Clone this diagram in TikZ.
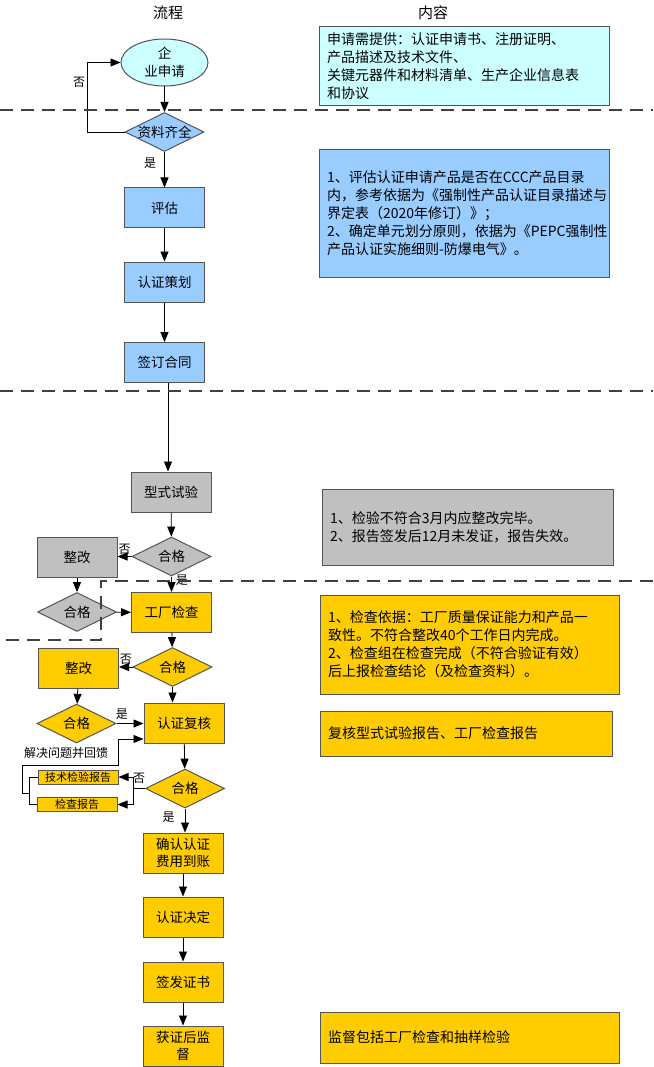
\documentclass[tikz,border=0pt]{standalone}
\usepackage{fontspec}
\setmainfont{Noto Sans CJK SC}
\usetikzlibrary{shapes.geometric,arrows.meta}
\definecolor{cyanfill}{HTML}{CCFFFF}
\definecolor{bluefill}{HTML}{99CCFF}
\definecolor{grayfill}{HTML}{C0C0C0}
\definecolor{yellowfill}{HTML}{FFCC00}
\definecolor{edge}{HTML}{555555}
\begin{document}
\begin{tikzpicture}[x=1pt, y=-1pt,
  main/.style = {draw=edge, line width=1pt, minimum width=80pt, minimum height=40pt, inner sep=0pt, align=center, font=\fontsize{13.5}{17.5}\selectfont},
  dec/.style = {main, diamond, aspect=2, inner sep=-2pt, minimum width=79pt, minimum height=39pt},
  report/.style = {draw=edge, line width=1pt, minimum width=80pt, minimum height=14pt, inner sep=0pt, font=\fontsize{11}{13}\selectfont},
  note/.style = {draw=edge, line width=1pt, align=left, inner xsep=8pt, inner ysep=0pt, font=\fontsize{14}{18}\selectfont},
  lab/.style = {inner sep=2pt, font=\fontsize{12}{14}\selectfont},
  head/.style = {font=\fontsize{15}{18}\selectfont},
  arr/.style = {-{Triangle[length=10pt, width=8pt]}, line width=0.8pt},
  cutline/.style = {draw=black!75, line width=1.2pt, dash pattern=on 13pt off 8pt}]
\useasboundingbox (0,0) rectangle (653,1067);

\node[head] (h1) at (168,13) {流程};
\node[head] (h2) at (433,13) {内容};

% application and planning
\node[main, ellipse, fill=cyanfill, minimum width=87pt, minimum height=47pt] (1) at (164.5,62.5) {企\\业申请};
\node[dec, fill=bluefill] (2) at (164.5,132) {资料齐全};
\node[main, fill=bluefill] (3) at (164.5,208) {评估};
\node[main, fill=bluefill] (4) at (164.5,282) {认证策划};
\node[main, fill=bluefill] (5) at (164.5,362.5) {签订合同};

% type test
\node[main, fill=grayfill] (6) at (171,492) {型式试验};
\node[dec, fill=grayfill] (7) at (171.5,556.5) {合格};
\node[main, fill=grayfill] (8) at (77,557.5) {整改};
\node[dec, fill=grayfill] (9) at (77,612) {合格};

% factory inspection and decision
\node[main, fill=yellowfill] (10) at (171.5,612.5) {工厂检查};
\node[dec, fill=yellowfill] (11) at (172.5,667) {合格};
\node[main, fill=yellowfill] (12) at (78.5,668) {整改};
\node[dec, fill=yellowfill] (13) at (76.5,723.5) {合格};
\node[main, fill=yellowfill] (14) at (184,723) {认证复核};
\node[dec, fill=yellowfill] (15) at (185,788.5) {合格};
\node[report, fill=yellowfill] (16) at (78,777) {技术检验报告};
\node[report, fill=yellowfill] (17) at (77,804.5) {检查报告};
\node[main, fill=yellowfill] (18) at (183,853) {确认认证\\费用到账};
\node[main, fill=yellowfill] (19) at (183,917) {认证决定};
\node[main, fill=yellowfill] (20) at (183,982) {签发证书};
\node[main, fill=yellowfill] (21) at (183,1046) {获证后监\\督};
\node[lab] (22) at (66,753) {解决问题并回馈};

% notes
\node[note, fill=cyanfill, text width=274pt, minimum height=79pt] (n1) at (464,66.5)
  {申请需提供：认证申请书、注册证明、\\产品描述及技术文件、\\关键元器件和材料清单、生产企业信息表\\和协议};
\node[note, fill=bluefill, text width=274pt, minimum height=127pt] (n2) at (464,213.5)
  {1、评估认证申请产品是否在CCC产品目录\\内，参考依据为《强制性产品认证目录描述与\\界定表（2020年修订）》；\\2、确定单元划分原则，依据为《PEPC强制性\\产品认证实施细则-防爆电气》。};
\node[note, fill=grayfill, text width=275pt, minimum height=76pt] (n3) at (467.5,527)
  {1、检验不符合3月内应整改完毕。\\2、报告签发后12月未发证，报告失效。};
\node[note, fill=yellowfill, text width=283pt, minimum height=99pt] (n4) at (469.5,644.5)
  {1、检查依据：工厂质量保证能力和产品一\\致性。不符合整改40个工作日内完成。\\2、检查组在检查完成（不符合验证有效）\\后上报检查结论（及检查资料）。};
\node[note, fill=yellowfill, text width=276pt, minimum height=45pt] (n5) at (466,733.5)
  {复核型式试验报告、工厂检查报告};
\node[note, fill=yellowfill, text width=283pt, minimum height=51pt] (n6) at (469.5,1037.5)
  {监督包括工厂检查和抽样检验};

\draw[arr] (1) -- (2);
\draw[arr] (2.west) -- ++(-37,0) |- node[pos=0.36, left, lab] (l1) {否} (1.west);
\draw[arr] (2) -- node[left=6pt, lab, pos=0.32] (l2) {是} (3);
\draw[arr] (3) -- (4);
\draw[arr] (4) -- (5);
\draw[arr] ([xshift=3.5pt]5.south) -- ([xshift=-3pt]6.north);
\draw[arr] (6) -- (7);
\draw[arr] (7.west) -- node[above, lab] (l3) {否} (7.west -| 8.east);
\draw[arr] (7) -- node[right=2pt, lab, pos=0.25] (l4) {是} (10);
\draw[arr] (8) -- (9);
\draw[arr] (9) -- (10);
\draw[arr] (10) -- (11);
\draw[arr] (11.west) -- node[above, lab] (l5) {否} (11.west -| 12.east);
\draw[arr] (11.south) -- (11.south |- 14.north);
\draw[arr] (12) -- (13);
\draw[arr] (13.east) -- node[above=2pt, lab, pos=0.2] (l6) {是} (13.east -| 14.west);
\draw[arr] (14) -- (15);
\coordinate (c1) at (133,788.5);
\draw[line width=0.8pt] (15.west) -- node[above=3pt, lab] (l7) {否} (c1);
\draw[arr] (c1) |- (16.east);
\draw[arr] (c1) |- (17.east);
\draw[line width=0.8pt] (16.west) -- ++(-8,0) |- (17.west);
\coordinate (c2) at (30,793);
\draw[arr] (c2) -- ++(-8,0) |- ++(96,-28) |- ([yshift=-16pt]14.west);
\draw[arr] (15.south) -- node[left=8pt, lab, pos=0.35] (l8) {是} (15.south |- 18.north);
\draw[arr] (18) -- (19);
\draw[arr] (19) -- (20);
\draw[arr] (20) -- (21);

% stage borders
\draw[cutline] (0,110) -- (653,110);
\draw[cutline] (0,391) -- (653,391);
\draw[cutline] (653,581) -- (101,581) -- (101,640) -- (0,640);
\end{tikzpicture}
\end{document}
